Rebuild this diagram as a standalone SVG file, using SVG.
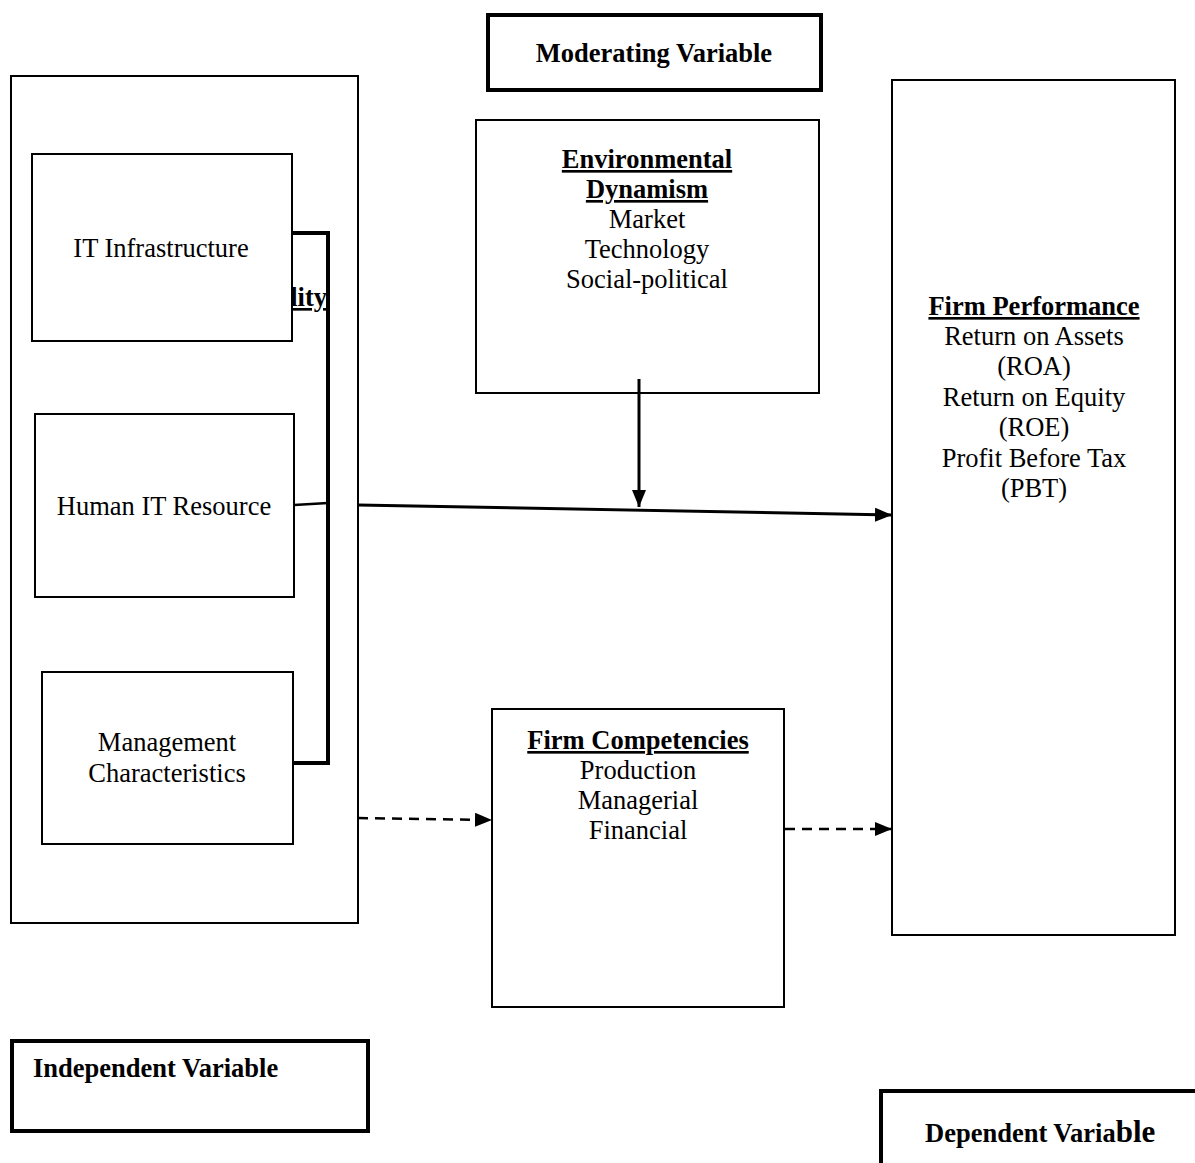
<svg xmlns="http://www.w3.org/2000/svg" width="1195" height="1163" viewBox="0 0 1195 1163">
<style>
  .box { fill: #ffffff; stroke: #000000; stroke-width: 2; }
  .thick { fill: #ffffff; stroke: #000000; stroke-width: 4; }
  .t { font-family: "Liberation Serif", "Times New Roman", serif; font-size: 26.5px; fill: #000000; }
  .b { font-weight: bold; }
  .u { text-decoration: underline; }
  .c { text-anchor: middle; }
  .bracket { fill: none; stroke: #000000; stroke-width: 4; }
  .solid { fill: none; stroke: #000000; stroke-width: 3; }
  .dash { fill: none; stroke: #000000; stroke-width: 2.5; stroke-dasharray: 10 7; }
</style>
<defs>
  <marker id="ah" markerUnits="userSpaceOnUse" markerWidth="17" markerHeight="14" refX="17" refY="7" orient="auto">
    <path d="M0,0 L17,7 L0,14 Z" fill="#000000"/>
  </marker>
</defs>
<rect width="1195" height="1163" fill="#ffffff"/>

<g id="moderating-label">
  <rect class="thick" x="488" y="15" width="333" height="75"/>
  <text class="t b c" x="654" y="62">Moderating Variable</text>
</g>

<g id="independent-group">
  <rect class="box" x="11" y="76" width="347" height="847"/>
</g>

<g id="it-capability-fragment">
  <text class="t b u" x="327" y="306" text-anchor="end">lity</text>
</g>

<g id="it-infrastructure">
  <rect class="box" x="32" y="154" width="260" height="187"/>
  <text class="t c" x="161" y="257">IT Infrastructure</text>
</g>

<g id="human-it-resource">
  <rect class="box" x="35" y="414" width="259" height="183"/>
  <text class="t c" x="164" y="515">Human IT Resource</text>
</g>

<g id="management-characteristics">
  <rect class="box" x="42" y="672" width="251" height="172"/>
  <text class="t c" x="167" y="751">Management</text>
  <text class="t c" x="167" y="782">Characteristics</text>
</g>

<g id="environmental-dynamism">
  <rect class="box" x="476" y="120" width="343" height="273"/>
  <text class="t b u c" x="647" y="168">Environmental</text>
  <text class="t b u c" x="647" y="198">Dynamism</text>
  <text class="t c" x="647" y="228">Market</text>
  <text class="t c" x="647" y="258">Technology</text>
  <text class="t c" x="647" y="288">Social-political</text>
</g>

<g id="firm-performance">
  <rect class="box" x="892" y="80" width="283" height="855"/>
  <text class="t b u c" x="1034" y="315">Firm Performance</text>
  <text class="t c" x="1034" y="345">Return on Assets</text>
  <text class="t c" x="1034" y="375">(ROA)</text>
  <text class="t c" x="1034" y="406">Return on Equity</text>
  <text class="t c" x="1034" y="436">(ROE)</text>
  <text class="t c" x="1034" y="467">Profit Before Tax</text>
  <text class="t c" x="1034" y="497">(PBT)</text>
</g>

<g id="firm-competencies">
  <rect class="box" x="492" y="709" width="292" height="298"/>
  <text class="t b u c" x="638" y="749">Firm Competencies</text>
  <text class="t c" x="638" y="779">Production</text>
  <text class="t c" x="638" y="809">Managerial</text>
  <text class="t c" x="638" y="839">Financial</text>
</g>

<g id="independent-label">
  <rect class="thick" x="12" y="1041" width="356" height="90"/>
  <text class="t b" x="33" y="1077">Independent Variable</text>
</g>

<g id="dependent-label">
  <path class="thick" d="M881,1170 V1091 H1200" fill="none"/>
  <text class="t b" x="925" y="1142">Dependent Varia<tspan style="font-size:31px">ble</tspan></text>
</g>

<g id="connectors">
  <path class="bracket" d="M292,233 H328 V763 H293"/>
  <path class="solid" style="stroke-width:2.5" d="M294,505 L328,503"/>
  <path class="solid" d="M358,505 L892,515" marker-end="url(#ah)"/>
  <path class="solid" d="M639,379 L639,507" marker-end="url(#ah)"/>
  <path class="dash" d="M358,818 L492,820" marker-end="url(#ah)"/>
  <path class="dash" d="M785,829 L892,829" marker-end="url(#ah)"/>
</g>
</svg>
